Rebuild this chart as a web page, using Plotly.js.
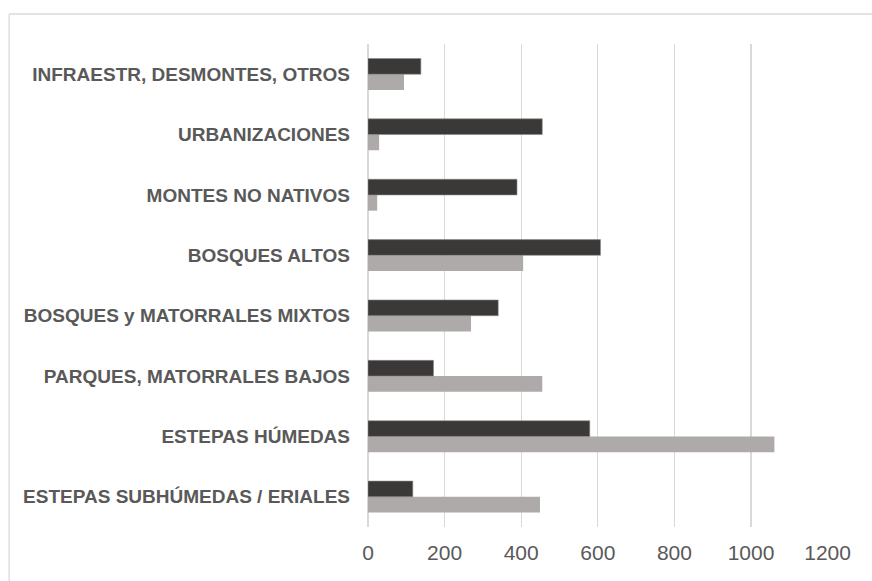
<!DOCTYPE html>
<html>
<head>
<meta charset="utf-8">
<script src="https://cdn.plot.ly/plotly-3.0.1.min.js"></script>
<style>
  html, body { margin: 0; padding: 0; background: #ffffff; }
  #chart { width: 872px; height: 581px; }
</style>
</head>
<body>
<div id="chart"></div>
<script>
// Categories, listed from bottom to top as drawn
const categories = [
  "ESTEPAS SUBHÚMEDAS / ERIALES",
  "ESTEPAS HÚMEDAS",
  "PARQUES, MATORRALES BAJOS",
  "BOSQUES y MATORRALES MIXTOS",
  "BOSQUES ALTOS",
  "MONTES NO NATIVOS",
  "URBANIZACIONES",
  "INFRAESTR, DESMONTES, OTROS"
];
// Dark series (upper bar of each pair)
const serieOscura = [117, 579, 171, 340, 607, 389, 455, 138];
// Light grey series (lower bar of each pair)
const serieClara = [449, 1061, 455, 269, 405, 24, 29, 94];
const xTicks = [0, 200, 400, 600, 800, 1000, 1200];

const W = 872, H = 581;
const mL = 367.5, mR = 43.7, mT = 44, mB = 54;
const plotW = W - mL - mR, plotH = H - mT - mB;
// frame border position in paper units
const bx = (8 - mL) / plotW;
const by = 1 + (mT - 14) / plotH;

const traces = [
  {
    type: 'bar', orientation: 'h', name: 'Serie clara',
    y: categories, x: serieClara,
    marker: { color: '#aeaaaa' },
    hoverinfo: 'x+y'
  },
  {
    type: 'bar', orientation: 'h', name: 'Serie oscura',
    y: categories, x: serieOscura,
    marker: { color: '#3b3838', line: { color: '#8a8888', width: 0.6 } },
    hoverinfo: 'x+y'
  }
];

const layout = {
  width: W, height: H,
  margin: { l: mL, r: mR, t: mT, b: mB, pad: 0 },
  paper_bgcolor: '#ffffff', plot_bgcolor: '#ffffff',
  barmode: 'group', bargap: 0.48, bargroupgap: 0,
  showlegend: false,
  xaxis: {
    range: [0, 1201], tickvals: xTicks, ticktext: xTicks.map(String),
    showgrid: true, gridcolor: '#d9d9d9', gridwidth: 1.3,
    zeroline: true, zerolinecolor: '#d9d9d9', zerolinewidth: 1.3,
    showline: false, ticks: '',
    ticklabelstandoff: 11,
    tickfont: { family: 'Liberation Sans, Arial, sans-serif', size: 21, color: '#595959' },
    fixedrange: true
  },
  yaxis: {
    type: 'category', showgrid: false, zeroline: false, showline: false, ticks: '',
    ticklabelstandoff: 17,
    tickfont: { family: 'Liberation Sans, Arial, sans-serif', size: 19, color: '#595959', weight: 'bold' },
    fixedrange: true
  },
  shapes: [
    { type: 'line', xref: 'paper', yref: 'paper', x0: bx, x1: 1.2, y0: by, y1: by,
      line: { color: '#d9d9d9', width: 1.3 } },
    { type: 'line', xref: 'paper', yref: 'paper', x0: bx, x1: bx, y0: by, y1: -0.2,
      line: { color: '#d9d9d9', width: 1.3 } }
  ]
};

Plotly.newPlot('chart', traces, layout, { displayModeBar: false, staticPlot: true });
</script>
</body>
</html>
